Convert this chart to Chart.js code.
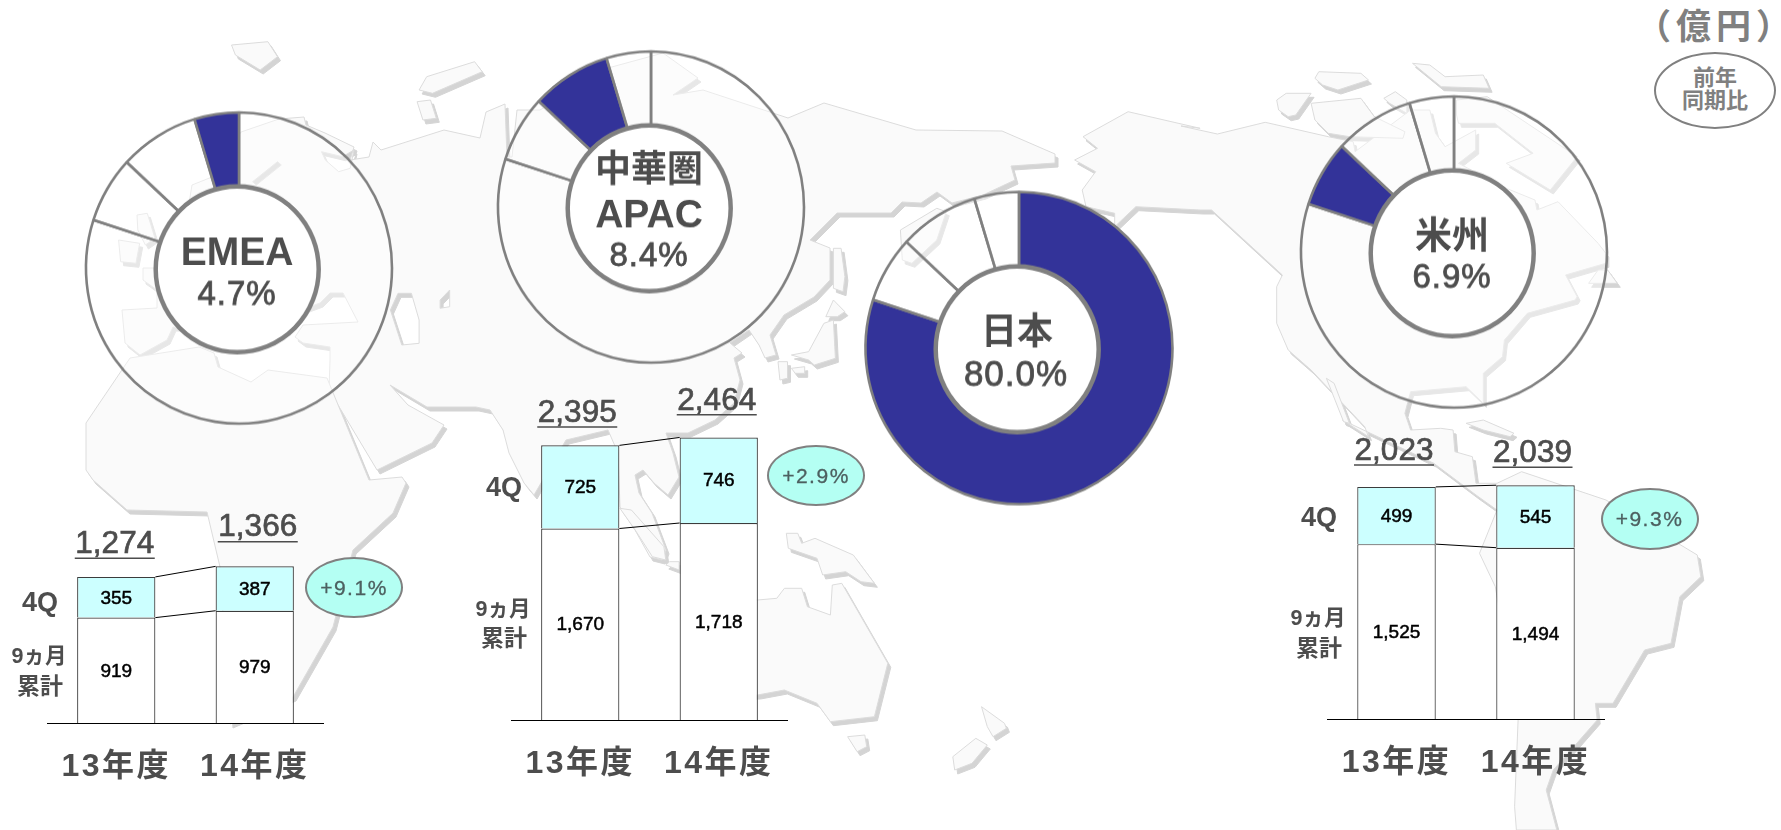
<!DOCTYPE html>
<html lang="ja"><head><meta charset="utf-8"><title>地域別売上</title>
<script src="https://cdn.jsdelivr.net/npm/chart.js@4"></script>
<style>
html,body{margin:0;padding:0;background:#fff;width:1781px;height:830px;overflow:hidden}
#stage{position:relative;width:1781px;height:830px;font-family:"Liberation Sans","Noto Sans CJK JP",sans-serif}
#map{position:absolute;left:0;top:0}
canvas{position:absolute}
.t{position:absolute;transform:translate(-50%,-50%);white-space:nowrap;color:#4d4d4d;font-weight:700;line-height:1}
.e{position:absolute;box-sizing:border-box;border-radius:50%;border:2px solid #808080;background:#b4fff3;display:flex;align-items:center;justify-content:center;color:#4d6060;font-size:21px;letter-spacing:1.5px;-webkit-text-stroke:.3px #4d6060}
</style></head><body><div id="stage">
<svg id="map" width="1781" height="830"></svg>
</div>
<script>
// ---- chart data ----
const fiscalYears = ['13年度', '14年度'];
const segmentNames = ['9ヵ月累計', '4Q'];
const shareRegions = ['日本', '米州', '中華圏APAC', 'EMEA'];
const shareValues = [80.0, 6.9, 8.4, 4.7];

const emeaNineMonths = [919, 979];
const emeaFourthQuarter = [355, 387];
const emeaTotals = ['1,274', '1,366'];
const emeaGrowth = '+9.1%';

const apacNineMonths = [1670, 1718];
const apacFourthQuarter = [725, 746];
const apacTotals = ['2,395', '2,464'];
const apacGrowth = '+2.9%';

const americasNineMonths = [1525, 1494];
const americasFourthQuarter = [499, 545];
const americasTotals = ['2,023', '2,039'];
const americasGrowth = '+9.3%';

// ---- layout ----
const INK = '#4d4d4d', GREY = '#808080', NAVY = '#333399', PALE = 'rgba(255,255,255,0.45)';
const FONT = '"Liberation Sans","Noto Sans CJK JP",sans-serif';
const stage = document.getElementById('stage');

function addCanvas(left, top, w, h) {
  const c = document.createElement('canvas');
  c.width = w; c.height = h;
  c.style.left = left + 'px'; c.style.top = top + 'px';
  c.style.width = w + 'px'; c.style.height = h + 'px';
  stage.appendChild(c);
  return c;
}
function addText(str, x, y, size, color, spacing) {
  const d = document.createElement('div');
  d.className = 't'; d.textContent = str;
  d.style.left = x + 'px'; d.style.top = y + 'px'; d.style.fontSize = size + 'px';
  if (color) d.style.color = color;
  if (spacing) d.style.letterSpacing = spacing + 'px';
  stage.appendChild(d);
}
function addEllipse(str, cx, cy, rx, ry) {
  const d = document.createElement('div');
  d.className = 'e'; d.textContent = str;
  d.style.left = (cx - rx) + 'px'; d.style.top = (cy - ry) + 'px';
  d.style.width = (2 * rx) + 'px'; d.style.height = (2 * ry) + 'px';
  stage.appendChild(d);
}
function heavyText(ctx, str, x, y, w) {
  ctx.fillText(str, x, y);
  if (w) { ctx.lineWidth = w; ctx.strokeStyle = ctx.fillStyle; ctx.strokeText(str, x, y); }
}

// ---- doughnuts ----
const HUB_RADIUS = 81.5, HUB_DX = -1.8, HUB_DY = 1.2;
const ringPlugin = {
  id: 'ring',
  afterDatasetsDraw(chart, args, opts) {
    const ctx = chart.ctx, arc = chart.getDatasetMeta(0).data[0];
    ctx.save();
    ctx.beginPath();
    ctx.arc(arc.x + HUB_DX, arc.y + HUB_DY, HUB_RADIUS, 0, Math.PI * 2);
    ctx.fillStyle = '#fff'; ctx.fill();
    ctx.lineWidth = 4.5; ctx.strokeStyle = GREY; ctx.stroke();
    ctx.textAlign = 'center'; ctx.textBaseline = 'middle'; ctx.fillStyle = INK;
    opts.lines.forEach(l => {
      ctx.font = l.weight + ' ' + l.size + 'px ' + FONT;
      ctx.letterSpacing = l.weight === 400 ? '1px' : '0px';
      heavyText(ctx, l.text, arc.x + l.dx, arc.y + l.dy, l.weight === 400 ? 0.8 : 0);
    });
    ctx.restore();
  }
};
function doughnut(cx, cy, r, inner, highlight, lines) {
  const S = 330, c = addCanvas(cx - S / 2, cy - S / 2, S, S);
  c.style.transform = 'scaleY(1.017)';
  new Chart(c, {
    type: 'doughnut',
    data: { labels: shareRegions, datasets: [{
      data: shareValues,
      backgroundColor: shareValues.map((v, i) => i === highlight ? NAVY : PALE),
      borderColor: GREY, borderWidth: 2.6, hoverOffset: 0
    }]},
    options: { responsive: false, animation: false, devicePixelRatio: 1, radius: r, cutout: inner,
      layout: { padding: 0 },
      plugins: { legend: { display: false }, tooltip: { enabled: false }, ring: { lines } } },
    plugins: [ringPlugin]
  });
}
doughnut(239, 267.5, 153, 83.5, 3, [
  { text: 'EMEA', size: 39, weight: 700, dx: -2, dy: -14 },
  { text: '4.7%', size: 33, weight: 400, dx: -2, dy: 27 }]);
doughnut(650.5, 206.5, 153, 83.5, 2, [
  { text: '中華圏', size: 36, weight: 700, dx: -2, dy: -35 },
  { text: 'APAC', size: 39, weight: 700, dx: -2, dy: 9 },
  { text: '8.4%', size: 33, weight: 400, dx: -2, dy: 49 }]);
doughnut(1018.5, 348, 153.5, 84, 0, [
  { text: '日本', size: 36, weight: 700, dx: -2, dy: -14 },
  { text: '80.0%', size: 35, weight: 400, dx: -3, dy: 27 }]);
doughnut(1453.5, 252, 153, 83.5, 1, [
  { text: '米州', size: 37, weight: 700, dx: -2, dy: -13 },
  { text: '6.9%', size: 33, weight: 400, dx: -2, dy: 26 }]);

// ---- stacked bars ----
const barPlugin = {
  id: 'barDecor',
  beforeDraw(chart) { chart.ctx.letterSpacing = '2.5px'; },
  afterDatasetsDraw(chart, args, opts) {
    const ctx = chart.ctx;
    const m0 = chart.getDatasetMeta(0).data, m1 = chart.getDatasetMeta(1).data;
    ctx.save();
    ctx.letterSpacing = '0px';
    ctx.strokeStyle = '#000'; ctx.lineWidth = 1;
    [m0, m1].forEach(m => {
      ctx.beginPath();
      ctx.moveTo(m[0].x + m[0].width / 2, m[0].y);
      ctx.lineTo(m[1].x - m[1].width / 2, m[1].y);
      ctx.stroke();
    });
    ctx.textAlign = 'center'; ctx.textBaseline = 'middle';
    ctx.font = '19px ' + FONT; ctx.fillStyle = '#000';
    chart.data.datasets.forEach((ds, d) => {
      const m = d ? m1 : m0, base = d ? m0 : null;
      ds.data.forEach((v, i) => {
        const bottom = base ? base[i].y : chart.scales.y.getPixelForValue(0);
        heavyText(ctx, v.toLocaleString('en-US'), m[i].x, (m[i].y + bottom) / 2 + 1, 0.5);
      });
    });
    ctx.font = '31.5px ' + FONT; ctx.fillStyle = INK;
    opts.totals.forEach((t, i) => {
      const x = m1[i].x + opts.dx[i], y = m1[i].y - opts.lift[i];
      heavyText(ctx, t, x, y, 0.7);
      ctx.strokeStyle = INK; ctx.lineWidth = 1.5;
      ctx.beginPath(); ctx.moveTo(x - 40, y + 14); ctx.lineTo(x + 40, y + 14); ctx.stroke();
    });
    ctx.restore();
  }
};
function stacked(left, baseline, width, nine, fourth, totals, dx, lift) {
  const plotH = 344, axisH = 62;
  const c = addCanvas(left, baseline - plotH, width, plotH + axisH);
  new Chart(c, {
    type: 'bar',
    data: { labels: fiscalYears, datasets: [
      { label: segmentNames[0], data: nine, backgroundColor: '#fff' },
      { label: segmentNames[1], data: fourth, backgroundColor: '#ccffff' }
    ].map(d => Object.assign(d, { borderColor: '#3c3c3c', borderWidth: 1.2, barPercentage: 0.565, categoryPercentage: 1 })) },
    options: { responsive: false, animation: false, devicePixelRatio: 1,
      layout: { padding: 0 },
      scales: {
        x: { stacked: true, afterFit: s => { s.height = axisH; },
          grid: { display: false }, border: { display: true, color: '#000', width: 1 },
          ticks: { padding: 17, maxRotation: 0, autoSkip: false, color: INK, font: { size: 32, weight: 700, family: FONT, lineHeight: 1.2 } } },
        y: { stacked: true, display: false, min: 0, max: 3000 }
      },
      plugins: { legend: { display: false }, tooltip: { enabled: false }, barDecor: { totals, dx, lift } } },
    plugins: [barPlugin]
  });
}
stacked(46.5, 722.5, 277, emeaNineMonths, emeaFourthQuarter, emeaTotals, [-1.5, 3], [32.7, 38.7]);
stacked(510.5, 720, 277, apacNineMonths, apacFourthQuarter, apacTotals, [-3, -2], [32.3, 36.6]);
stacked(1326.5, 719, 278, americasNineMonths, americasFourthQuarter, americasTotals, [-2.5, -3], [36, 32]);

// ---- side labels, growth ellipses, unit ----
[[40, 601.7, 656.7, 686], [504, 487.3, 610, 637.7], [1319, 516.7, 619, 647.7]].forEach(p => {
  addText('4Q', p[0], p[1], 27);
  addText('9ヵ月', p[0] - 1, p[2], 21.5);
  addText('累計', p[0], p[3], 23);
});
addEllipse(emeaGrowth, 354, 587.5, 49, 30.5);
addEllipse(apacGrowth, 816, 475.5, 49, 30.5);
addEllipse(americasGrowth, 1649.5, 519, 49, 31);
addText('（億円）', 1716, 26, 35, GREY, 5);
const unit = document.createElement('div');
unit.className = 'e';
Object.assign(unit.style, { left: '1654px', top: '52px', width: '122px', height: '77px', background: 'none', border: '2px solid #808080' });
stage.appendChild(unit);
addText('前年', 1715, 77.5, 22, GREY);
addText('同期比', 1715, 100.5, 22, GREY);

// ---- background world map (decoration only) ----
const Z = (x0, y0, sx, sy, pts) => pts.map(p => [x0 + p[0] / sx, y0 + p[1] / sy]);
const z4 = p => Z(0, 0, 2.613, 3, p), z5 = p => Z(600, 0, 2.613, 3, p), z6 = p => Z(1181, 0, 2.613, 3, p);
const z7 = p => Z(440, 380, 2.613, 3, p), z8 = p => Z(1230, 420, 2.846, 3, p);
const eurasia = [[241,132],[279,119],[304,117],[306,125],[325,133],[354,147],[350,160],[369,157],[373,142],[381,150],[444,130],[480,138],[486,112],[505,104],[507,157],[512,157],[517,110],[540,110],[608,68],[663,53],[698,78],[673,95],[703,90],[788,118],[824,103],[916,130],[1002,131],[1055,154],[1055,163],[1011,166],[1015,180],[983,195],[952,203],[937,192],[921,203],[902,202],[891,213],[837,213],[810,240],[830,248],[830,280],[814,297],[784,315],[770,335],[776,355],[765,358],[759,345],[749,330],[730,343],[742,353],[734,358],[740,380],[734,403],[715,420],[688,433],[666,433],[673,453],[679,477],[668,495],[654,483],[643,470],[635,475],[639,493],[652,513],[666,550],[662,560],[650,557],[635,530],[620,507],[618,453],[608,430],[566,440],[541,483],[534,495],[524,483],[509,453],[503,430],[490,410],[476,407],[427,407],[390,385],[408,405],[444,425],[432,443],[377,470],[329,390],[330,360],[330,347],[303,343],[295,337],[303,325],[358,322],[343,293],[330,293],[320,303],[293,313],[250,330],[173,327],[167,340],[140,355],[125,343],[122,310],[157,308],[157,290],[143,280],[143,268],[175,268],[190,197],[192,185],[212,177]];
const africa = [[327,378],[369,480],[402,477],[406,483],[393,513],[353,550],[333,627],[293,697],[230,724],[220,567],[207,512],[127,510],[93,480],[86,470],[86,423],[130,358],[199,347],[214,353],[218,367],[251,382],[268,370]];
const seas = [
  z4([[840,455],[895,470],[925,450],[915,505],[885,515],[850,480]]),
  z4([[1040,880],[1075,880],[1095,960],[1095,1030],[1050,1035],[1020,930]]),
  z4([[1150,900],[1175,870],[1175,920],[1150,925]]),
  z4([[725,485],[735,495],[670,555],[660,545]])
];
const islands = [
  z4([[605,135],[700,125],[725,170],[680,210],[615,165]]),
  z4([[1095,270],[1115,230],[1240,185],[1260,215],[1130,280]]),
  z4([[1090,305],[1125,300],[1140,355],[1105,360]]),
  z4([[358,645],[385,640],[405,715],[380,735],[360,690]]),
  z4([[310,720],[365,730],[355,790],[315,785]]),
  z5([[500,1065],[545,1055],[585,970],[610,960],[615,1075],[560,1095],[545,1080]]),
  z5([[590,950],[610,900],[640,935],[620,950]]),
  z5([[500,1105],[535,1100],[535,1120],[510,1120]]),
  z5([[465,1085],[490,1085],[490,1135],[470,1140]]),
  z5([[610,745],[630,745],[640,830],[635,875],[610,865]]),
  z5([[880,625],[905,635],[880,720],[815,790],[790,780],[785,690]]),
  z7([[470,385],[500,390],[585,500],[590,540],[555,530],[510,450]]),
  z7([[600,545],[625,545],[625,570],[590,555]]),
  z7([[905,460],[935,460],[945,490],[980,475],[1080,525],[1135,610],[1100,605],[1060,575],[1000,585],[985,535],[910,505]]),
  z7([[700,660],[830,660],[880,655],[900,625],[945,625],[960,680],[1020,705],[1025,615],[1050,610],[1170,850],[1135,1010],[1020,1025],[985,970],[900,930],[830,945],[700,950]]),
  z7([[1065,1070],[1110,1065],[1115,1100],[1090,1115]]),
  z7([[1415,980],[1475,1030],[1480,1045],[1445,1070],[1430,1040]]),
  z7([[1340,1130],[1400,1075],[1430,1095],[1390,1150],[1345,1170]]),
  z6([[340,310],[470,295],[505,350],[585,395],[580,415],[440,410],[385,400],[350,360]]),
  z6([[350,235],[360,215],[470,220],[490,240],[410,270],[370,255]]),
  z6([[250,300],[275,280],[340,280],[300,345],[280,350],[255,330]]),
  z6([[530,295],[560,275],[590,300],[590,340],[545,310]]),
  z6([[605,190],[650,195],[690,230],[790,225],[805,265],[680,260]]),
  z6([[720,345],[720,300],[800,290],[1035,470],[965,570],[850,490],[920,460],[820,370],[725,370]]),
  z6([[745,1270],[790,1260],[870,1300],[860,1310],[790,1290]]),
  z6([[1065,850],[1090,810],[1115,810],[1140,850]]),
  z6([[380,1135],[400,1150],[440,1270],[425,1265]])
];
const americas = [].concat(
  z5([[1262,410],[1300,445],[1240,480],[1295,515],[1260,570],[1270,620],[1345,640],[1345,680],[1400,620],[1568,630]]),
  z6([[80,630],[265,825],[250,860],[250,970],[280,1050],[340,1110],[480,1280],[490,1310]]),
  z8([[320,0],[580,130],[700,225],[760,270],[710,400],[755,500],[820,900],[810,1160],[815,1230],[930,1230],[900,1110],[920,1050],[1045,900],[1040,850],[1090,850],[1180,690],[1255,670],[1280,530],[1340,470],[1330,405],[1070,240],[830,155],[760,190],[700,190],[690,110],[640,95],[635,30],[600,25]]),
  z6([[600,1290],[585,1240],[600,1175],[745,1160],[790,1210],[790,1120],[840,1070],[845,1020],[905,940],[1030,900],[1035,890],[1005,825],[1110,790],[1110,760],[1090,730],[985,605],[930,630],[925,600],[850,565],[725,490],[770,450],[770,390],[690,440],[665,400],[650,330],[600,330],[455,455],[450,425],[385,410],[220,367],[95,402],[0,378]]),
  z5([[1568,385],[1380,335]])
);
const toD = pts => 'M' + pts.map(p => p[0].toFixed(1) + ' ' + p[1].toFixed(1)).join('L') + 'Z';
const paths = [
  toD(eurasia) + seas.map(toD).join(''),
  toD(africa),
  toD(americas)
].concat(islands.map(toD));
document.getElementById('map').innerHTML =
  '<defs><filter id="sh" x="-5%" y="-5%" width="110%" height="110%">' +
  '<feOffset in="SourceAlpha" dx="3" dy="4" result="o"/><feFlood flood-color="#d4d4d4"/><feComposite in2="o" operator="in" result="s"/>' +
  '<feMerge><feMergeNode in="s"/><feMergeNode in="SourceGraphic"/></feMerge></filter></defs>' +
  '<g filter="url(#sh)" fill="#fafafa" stroke="#dcdcdc" stroke-width="1" fill-rule="evenodd" stroke-linejoin="round">' +
  paths.map(d => '<path d="' + d + '"/>').join('') + '</g>';
</script></body></html>
